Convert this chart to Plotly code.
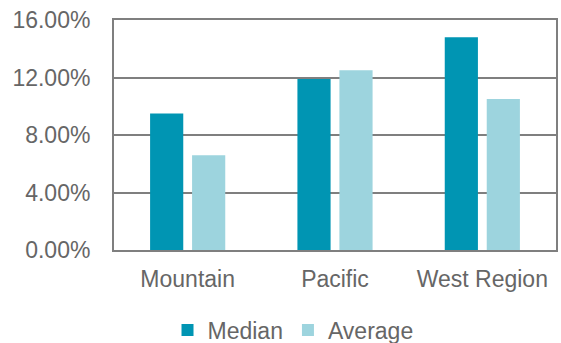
import plotly.graph_objects as go

regions = ["Mountain", "Pacific", "West Region"]
median_vals = [0.095, 0.119, 0.148]
average_vals = [0.066, 0.125, 0.105]
y_ticks = [0, 0.04, 0.08, 0.12, 0.16]

axis_gray = "#7f7f7f"
text_gray = "#666666"
font_family = "Liberation Sans, Arial, sans-serif"
font_size = 23

fig = go.Figure()
fig.add_trace(go.Bar(name="Median", x=regions, y=median_vals,
                     marker=dict(color="#0095b3", line=dict(width=0))))
fig.add_trace(go.Bar(name="Average", x=regions, y=average_vals,
                     marker=dict(color="#9dd4de", line=dict(width=0))))

fig.update_layout(
    width=561, height=343,
    margin=dict(l=114, r=5, t=20, b=93, autoexpand=False),
    paper_bgcolor="white", plot_bgcolor="white",
    barmode="group", bargap=0.43, bargroupgap=0.21,
    font=dict(family=font_family, size=font_size, color=text_gray),
    showlegend=True,
    legend=dict(orientation="h", x=0.405, xanchor="center",
                yref="container", y=0.038, yanchor="middle",
                font=dict(size=font_size, color=text_gray),
                itemwidth=30, tracegroupgap=0),
)
fig.update_xaxes(
    automargin=False,
    showline=True, linecolor=axis_gray, linewidth=2, mirror=True,
    ticks="outside", ticklen=7, tickcolor="rgba(0,0,0,0)",
    tickfont=dict(size=font_size, color=text_gray),
)
fig.update_yaxes(
    automargin=False,
    range=[0, 0.16], tickvals=y_ticks, tickformat=".2%",
    showgrid=True, gridcolor=axis_gray, gridwidth=2,
    showline=True, linecolor=axis_gray, linewidth=2, mirror=True,
    ticks="outside", ticklen=17, tickcolor="rgba(0,0,0,0)",
    tickfont=dict(size=font_size, color=text_gray),
    zeroline=False,
)

fig.write_html("out.html")
